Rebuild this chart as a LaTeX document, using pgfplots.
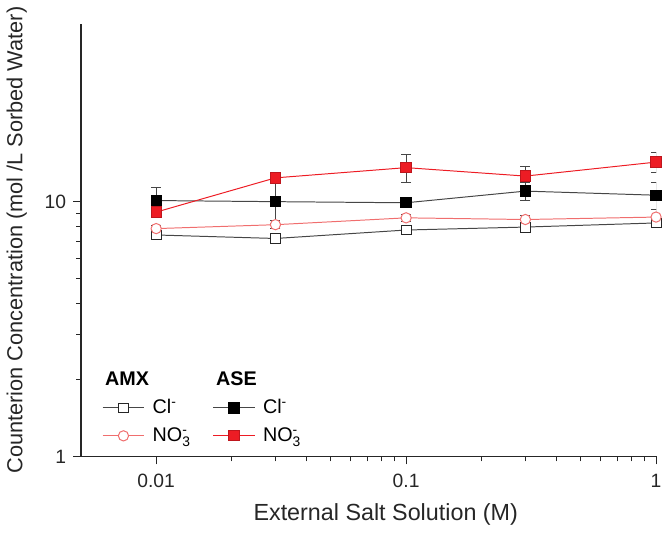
\documentclass[border=0pt]{standalone}
\usepackage{pgfplots}
\pgfplotsset{compat=1.18}
\usepackage{amsmath}
\usepackage{fontspec}
\setmainfont{Liberation Sans}
\definecolor{myred}{RGB}{237,28,36}
\definecolor{pinkred}{RGB}{240,110,110}
\definecolor{dgray}{RGB}{70,70,70}
\begin{document}
\begin{tikzpicture}
\begin{axis}[
  scale only axis, width=291pt, height=219pt,
  xmode=log, ymode=log,
  xmin=0.005, xmax=1, ymin=1, ymax=50,
  axis lines*=left,
  axis line style={line width=0.6pt, black!85},
  tick align=outside,
  xtick={0.01,0.1,1}, xticklabels={0.01,0.1,1},
  ytick={1,10}, yticklabels={1,10},
  major tick length=4pt, minor tick length=2.5pt,
  tick style={black!85, line width=0.5pt},
  ticklabel style={font=\fontsize{9.75}{11}\selectfont, black!85},
  xticklabel style={yshift=-1.5pt},
  /pgf/number format/assume math mode=true,
  xlabel={External Salt Solution (M)},
  ylabel={Counterion Concentration (mol /L Sorbed Water)},
  label style={black!85},
  xlabel style={font=\fontsize{11.8}{13}\selectfont, at={(axis description cs:0.53,0)}, anchor=center, yshift=-29.5pt},
  ylabel style={font=\fontsize{11}{13}\selectfont, at={(axis description cs:0,0.5)}, anchor=center, rotate=0, yshift=32.5pt},
  legend style={at={(axis description cs:0.026,0.215)}, anchor=north west,
    draw=none, fill=none, font=\fontsize{10}{12}\selectfont,
    /tikz/every even column/.append style={column sep=9pt},
    /tikz/every odd column/.append style={column sep=2pt},
    row sep=1.5pt},
  legend columns=2,
  legend cell align=left,
  legend image code/.code={\draw[mark repeat=2,mark phase=2] plot coordinates {(0pt,0pt)(10.5pt,0pt)(21pt,0pt)};},
  error bars/error bar style={dgray, line width=0.5pt, solid},
  error bars/error mark options={rotate=90, mark size=2.5pt, dgray, line width=0.5pt},
]
% AMX Cl-
\addplot[forget plot, dgray, line width=0.5pt, mark=square*, mark size=2.5pt,
  mark options={fill=white, draw=black!85, solid},
  error bars/.cd, y dir=both, y explicit]
  coordinates {(0.01,7.40) +- (0,0.25) (0.03,7.17) +- (0,0.15) (0.1,7.74) +- (0,0.2) (0.3,7.95) +- (0,0.2) (1,8.25) +- (0,0.3)};
% AMX NO3-
\addplot[forget plot, pinkred, line width=0.5pt, mark=*, mark size=2.6pt,
  mark options={fill=white, draw=pinkred, solid},
  error bars/.cd, y dir=both, y explicit]
  coordinates {(0.01,7.84) +- (0,0.25) (0.03,8.12) +- (0,0.3) (0.1,8.64) +- (0,0.3) (0.3,8.51) +- (0,0.35) (1,8.70) +- (0,0.6)};
% ASE Cl-
\addplot[forget plot, dgray, line width=0.5pt, mark=square*, mark size=2.6pt,
  mark options={fill=black, draw=black, solid},
  error bars/.cd, y dir=both, y explicit]
  coordinates {(0.01,10.1) +- (0,1.3) (0.03,10.0) +- (0,1.8) (0.1,9.9) +- (0,0.2) (0.3,11.0) +- (0,0.9) (1,10.6) +- (0,1.3)};
% ASE NO3-
\addplot[forget plot, myred, line width=0.5pt, mark=square*, mark size=2.6pt,
  mark options={fill=myred, draw=myred!80!black, solid},
  error bars/.cd, y dir=both, y explicit]
  coordinates {(0.01,9.1) +- (0,0.2) (0.03,12.4) +- (0,0.4) (0.1,13.6) +- (0,1.7) (0.3,12.6) +- (0,1.1) (1,14.3) +- (0,1.3)};

\addlegendimage{empty legend}\addlegendentry{\hspace*{-24pt}\textbf{AMX}}
\addlegendimage{empty legend}\addlegendentry{\hspace*{-24pt}\textbf{ASE}}
\addlegendimage{dgray, line width=0.5pt, mark=square*, mark size=2.5pt, mark options={fill=white, draw=black!85}}
\addlegendentry{Cl$^{\text{-}}$}
\addlegendimage{dgray, line width=0.5pt, mark=square*, mark size=2.6pt, mark options={fill=black, draw=black}}
\addlegendentry{Cl$^{\text{-}}$}
\addlegendimage{pinkred, line width=0.5pt, mark=*, mark size=2.6pt, mark options={fill=white, draw=pinkred}}
\addlegendentry{NO$_{\text{3}}^{\text{-}}$}
\addlegendimage{myred, line width=0.5pt, mark=square*, mark size=2.6pt, mark options={fill=myred, draw=myred!80!black}}
\addlegendentry{NO$_{\text{3}}^{\text{-}}$}
\end{axis}
\end{tikzpicture}
\end{document}
